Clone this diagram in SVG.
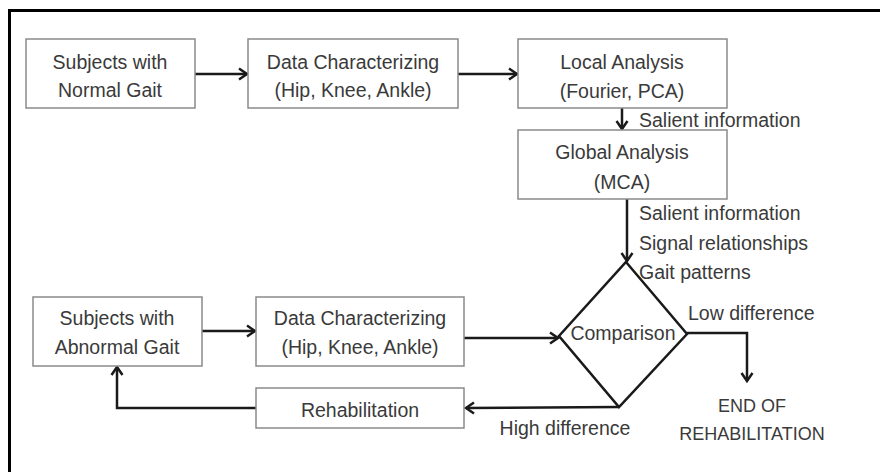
<svg xmlns="http://www.w3.org/2000/svg" width="880" height="472" viewBox="0 0 880 472">
<style>
.box{fill:#fff;stroke:#8a8a8a;stroke-width:1.5}
.t{font-family:"Liberation Sans",Arial,sans-serif;font-size:19.5px;fill:#3a3a3a;text-anchor:middle}
.l{font-family:"Liberation Sans",Arial,sans-serif;font-size:19.5px;fill:#3a3a3a}
.c{fill:none;stroke:#1a1a1a;stroke-width:2.5}
</style>
<defs>
<marker id="ah" markerUnits="userSpaceOnUse" markerWidth="14" markerHeight="14" refX="10" refY="7" orient="auto">
<path d="M2,1.5 L10,7 L2,12.5" fill="none" stroke="#1a1a1a" stroke-width="2.5"/>
</marker>
</defs>
<rect width="880" height="472" fill="#fff"/>
<path d="M9.5,472 V10.5 H880" fill="none" stroke="#000" stroke-width="3"/>
<g id="connectors">
<path class="c" d="M195,74 H247" marker-end="url(#ah)"/>
<path class="c" d="M458,74 H517" marker-end="url(#ah)"/>
<path class="c" d="M622,108 V129" marker-end="url(#ah)"/>
<path class="c" d="M627,199 V261" marker-end="url(#ah)"/>
<path class="c" d="M202,331 H255" marker-end="url(#ah)"/>
<path class="c" d="M464,338 H558" marker-end="url(#ah)"/>
<path class="c" d="M619,407 L466,408" marker-end="url(#ah)"/>
<path class="c" d="M256,408 H117 V367" marker-end="url(#ah)"/>
<path class="c" d="M687,333 H747 V381" marker-end="url(#ah)"/>
<text class="l" x="639" y="127">Salient information</text>
<text class="l" x="639" y="220">Salient information</text>
<text class="l" x="639" y="250">Signal relationships</text>
<text class="l" x="639" y="279">Gait patterns</text>
<text class="l" x="688" y="320">Low difference</text>
<text class="t" x="565" y="435">High difference</text>
</g>
<g id="normal-subjects">
<rect class="box" x="26" y="39" width="169" height="69"/>
<text class="t" x="110" y="69">Subjects with</text>
<text class="t" x="110" y="97">Normal Gait</text>
</g>
<g id="normal-data">
<rect class="box" x="248" y="39" width="210" height="69"/>
<text class="t" x="353" y="69">Data Characterizing</text>
<text class="t" x="353" y="97">(Hip, Knee, Ankle)</text>
</g>
<g id="local-analysis">
<rect class="box" x="518" y="39" width="209" height="69"/>
<text class="t" x="622" y="69">Local Analysis</text>
<text class="t" x="622" y="98">(Fourier, PCA)</text>
</g>
<g id="global-analysis">
<rect class="box" x="518" y="130" width="209" height="69"/>
<text class="t" x="622" y="159">Global Analysis</text>
<text class="t" x="622" y="189">(MCA)</text>
</g>
<g id="comparison">
<path d="M626,262 L687,334 L619,407 L559,336 Z" fill="#fff" stroke="#1a1a1a" stroke-width="2.5" stroke-linejoin="miter"/>
<text class="t" x="623" y="340">Comparison</text>
</g>
<g id="abnormal-subjects">
<rect class="box" x="33" y="297" width="169" height="69"/>
<text class="t" x="117" y="325">Subjects with</text>
<text class="t" x="117" y="354">Abnormal Gait</text>
</g>
<g id="abnormal-data">
<rect class="box" x="256" y="297" width="208" height="69"/>
<text class="t" x="360" y="325">Data Characterizing</text>
<text class="t" x="360" y="354">(Hip, Knee, Ankle)</text>
</g>
<g id="rehabilitation">
<rect class="box" x="256" y="388" width="208" height="40"/>
<text class="t" x="360" y="417">Rehabilitation</text>
</g>
<g id="end">
<text class="t" x="752" y="412" style="font-size:18px">END OF</text>
<text class="t" x="752" y="440" style="font-size:18px">REHABILITATION</text>
</g>
</svg>
